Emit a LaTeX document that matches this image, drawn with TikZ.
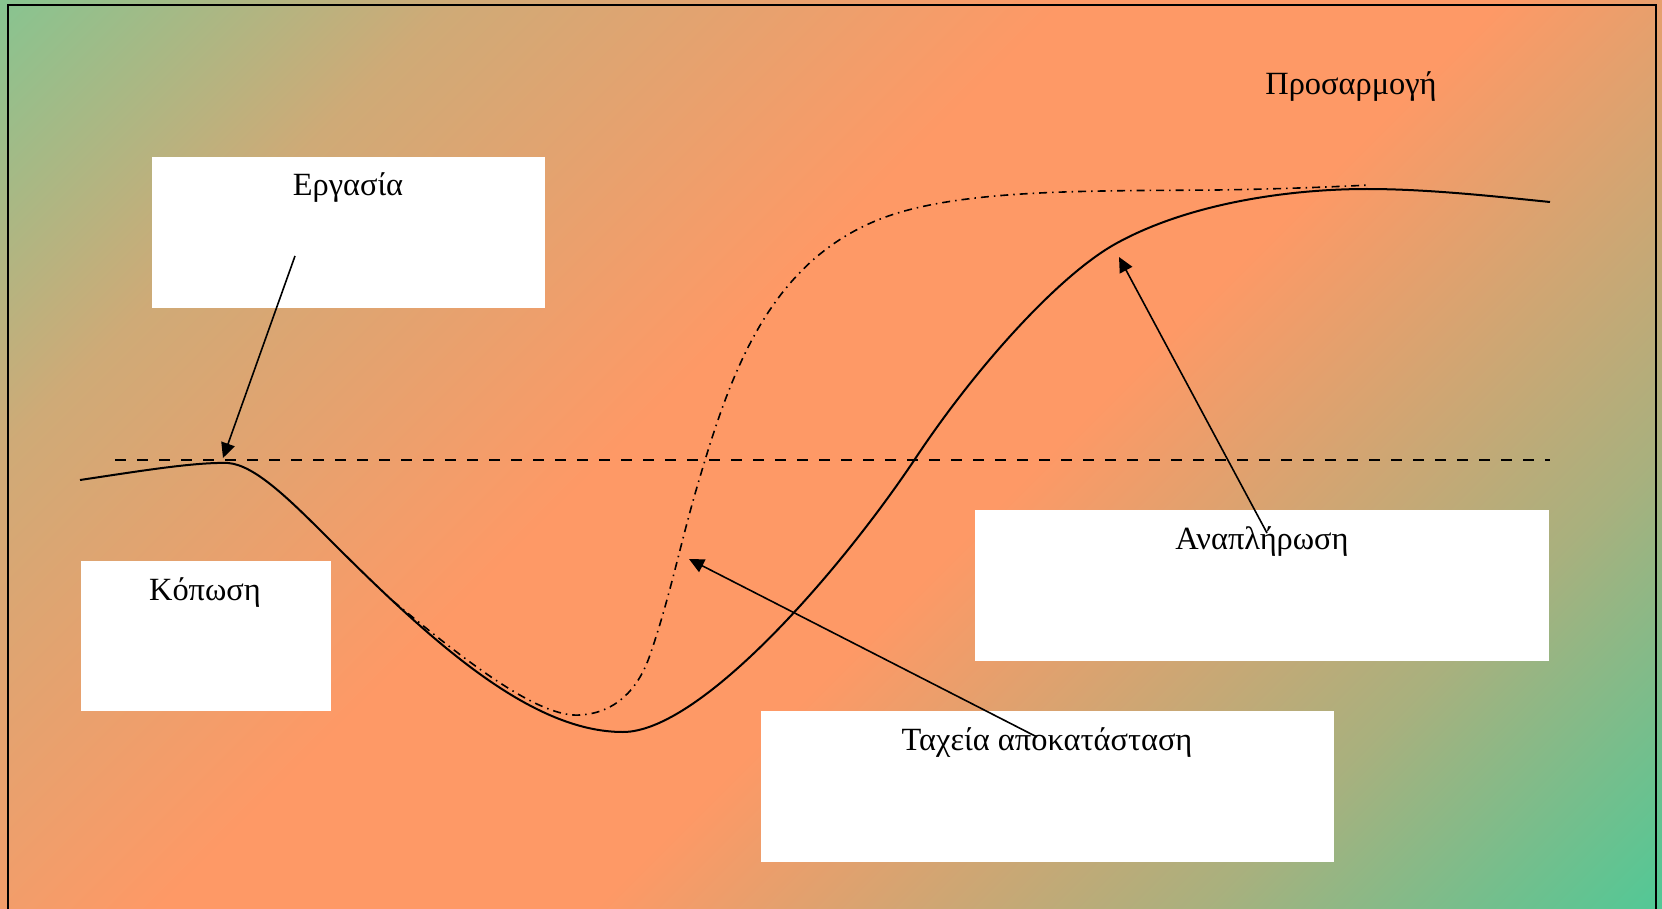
\documentclass[tikz,border=0pt]{standalone}
\usepackage{fontspec}
\setmainfont{Liberation Serif}
\usetikzlibrary{arrows.meta}
\definecolor{gtl}{RGB}{136,196,144}
\definecolor{gbr}{RGB}{82,200,150}
\definecolor{org}{RGB}{254,153,102}
\colorlet{mixtl}{org!60!gtl}
\colorlet{mixbr}{org!50!gbr}
\pgfdeclarehorizontalshading{bgshade}{100bp}{color(0bp)=(gtl); color(14.6bp)=(gtl); color(27bp)=(mixtl); color(44bp)=(org); color(56bp)=(org); color(73bp)=(mixbr); color(85.4bp)=(gbr); color(100bp)=(gbr)}
\tikzset{
  txtbox/.style={fill=white, draw=none, inner sep=0pt, anchor=north west},
  lbl/.style={font=\fontsize{32.4}{38}\selectfont, anchor=base, inner sep=0pt},
  curveline/.style={line width=2pt, line join=round},
  dashdotline/.style={line width=1.6pt, dash pattern=on 8pt off 5pt on 1.5pt off 5pt},
  baseline dashed/.style={line width=1.8pt, dash pattern=on 11pt off 11pt},
  pointer/.style={line width=1.6pt, -{Triangle[length=15pt,width=14pt]}}
}
\begin{document}
\begin{tikzpicture}[x=1pt,y=-1pt]
\useasboundingbox (0,0) rectangle (1662,909);
\shade[shading=bgshade, shading angle=-45] (0,0) rectangle (1662,909);
\draw[line width=2pt] (1656,960) -- (1656,5) -- (8,5) -- (8,960);

% boxes
\node[txtbox, minimum width=393pt, minimum height=151pt] (workbox) at (152,157) {};
\node[txtbox, minimum width=250pt, minimum height=150pt] (fatiguebox) at (81,561) {};
\node[txtbox, minimum width=574pt, minimum height=151pt] (refillbox) at (975,510) {};
\node[txtbox, minimum width=573pt, minimum height=151pt] (fastbox) at (761,711) {};

% curves
\draw[curveline] (80,480) .. controls (140,471) and (195,462) .. (228,463)
  .. controls (255,465) and (290,500) .. (330,540)
  .. controls (430,640) and (530,732) .. (623,732)
  .. controls (700,732) and (840,572) .. (917,456)
  .. controls (977,366) and (1060,274) .. (1117,243)
  .. controls (1190,203) and (1290,189) .. (1367,189)
  .. controls (1430,189) and (1500,197) .. (1550,202);
\draw[dashdotline] (393,601) .. controls (470,665) and (540,718) .. (580,715)
  .. controls (615,713) and (638,690) .. (650,655)
  .. controls (670,597) and (680,545) .. (697,487)
  .. controls (730,375) and (770,250) .. (901,212)
  .. controls (980,189) and (1100,191) .. (1217,190)
  .. controls (1280,189) and (1330,187) .. (1370,185);
\coordinate (dashL) at (115,460);
\coordinate (dashR) at (1550,460);
\draw[baseline dashed] (dashL) -- (dashR);

% labels
\node[lbl] (work) at (348,196) {Εργασία};
\node[lbl] (fatigue) at (205,600) {Κόπωση};
\node[lbl] (refill) at (1262,549) {Αναπλήρωση};
\node[lbl] (fast) at (1047,750) {Ταχεία αποκατάσταση};
\node[lbl] (adapt) at (1351,95) {Προσαρμογή};

% pointers
\coordinate (p1s) at (295,256);
\coordinate (p1e) at (223,458);
\coordinate (p2s) at (1267,533);
\coordinate (p2e) at (1119,257);
\coordinate (p3s) at (1037,737);
\coordinate (p3e) at (689,559);
\draw[pointer] (p1s) -- (p1e);
\draw[pointer] (p2s) -- (p2e);
\draw[pointer] (p3s) -- (p3e);
\end{tikzpicture}
\end{document}
